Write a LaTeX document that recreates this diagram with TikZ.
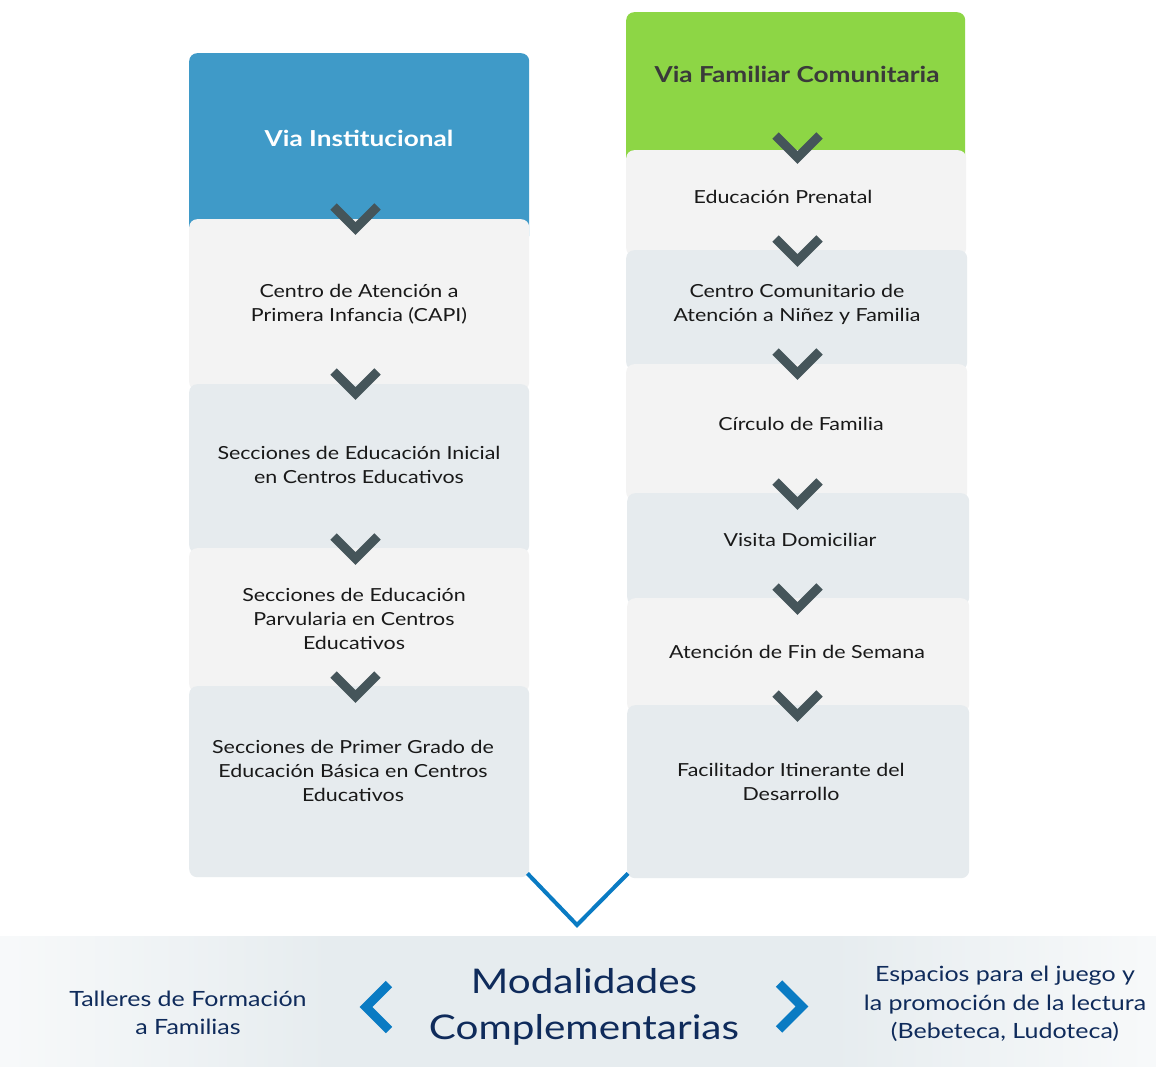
\documentclass[tikz,border=0pt]{standalone}
\usepackage{fontspec}
\setmainfont{Lato}[FakeStretch=1.19]
\usetikzlibrary{calc}
\definecolor{hblue}{HTML}{3F9AC8}
\definecolor{hgreen}{HTML}{8DD645}
\definecolor{cardA}{HTML}{F3F3F3}
\definecolor{cardB}{HTML}{E6EBEE}
\definecolor{chevc}{HTML}{45555A}
\definecolor{vblue}{HTML}{0A7BC3}
\definecolor{navy}{HTML}{0F2B5B}
\definecolor{bandg}{HTML}{E6ECEF}
\definecolor{darktxt}{HTML}{3A3A3A}
\tikzset{
  card/.style={rounded corners=8pt, inner sep=0pt, anchor=north west, draw=none},
  txt/.style={align=center, font=\fontsize{18}{24}\selectfont, text=black!90, inner sep=0pt},
  htxt/.style={align=center, font=\fontsize{22}{26}\selectfont\bfseries, inner sep=0pt},
  btxt/.style={align=center, font=\fontsize{21}{28.5}\selectfont, text=navy, inner sep=0pt},
  chevron/.style={draw=chevc, line width=9pt, miter limit=10, line join=miter},
  sidechev/.style={draw=vblue, line width=9pt, miter limit=10, line join=miter},
  vline/.style={draw=vblue, line width=4pt, line join=miter}
}
\newcommand\chevat[2]{\draw[chevron] ($(#1,#2)+(-22,-22)$) -- (#1,#2) -- ($(#1,#2)+(22,-22)$);}
\begin{document}
\begin{tikzpicture}[x=1pt,y=-1pt]
\useasboundingbox (0,0) rectangle (1156,1067);
\fill[white] (0,0) rectangle (1156,1067);
% bottom band
\fill[left color=white!70!bandg, right color=bandg] (0,936) rectangle (330,1067);
\fill[bandg] (329,936) rectangle (831,1067);
\fill[left color=bandg, right color=white!70!bandg] (830,936) rectangle (1156,1067);
% left column
\node[card, fill=hblue, minimum width=340pt, minimum height=190pt] (LH) at (189,53) {};
\node[card, fill=cardA, minimum width=340pt, minimum height=171pt] (L1) at (189,219) {};
\node[card, fill=cardB, minimum width=340pt, minimum height=169pt] (L2) at (189,384) {};
\node[card, fill=cardA, minimum width=340pt, minimum height=144pt] (L3) at (189,548) {};
\node[card, fill=cardB, minimum width=340pt, minimum height=191pt] (L4) at (189,686) {};
% right column
\node[card, fill=hgreen, minimum width=339pt, minimum height=160pt] (RH) at (626,12) {};
\node[card, fill=cardA, minimum width=340pt, minimum height=106pt] (R1) at (626,150) {};
\node[card, fill=cardB, minimum width=341pt, minimum height=120pt] (R2) at (626,250) {};
\node[card, fill=cardA, minimum width=341pt, minimum height=136pt] (R3) at (626,364) {};
\node[card, fill=cardB, minimum width=342pt, minimum height=112pt] (R4) at (627,493) {};
\node[card, fill=cardA, minimum width=342pt, minimum height=114pt] (R5) at (627,598) {};
\node[card, fill=cardB, minimum width=342pt, minimum height=173pt] (R6) at (627,705) {};
% chevrons
\chevat{355.5}{228.5}
\chevat{355.5}{393.5}
\chevat{355.5}{558.5}
\chevat{355.5}{696.5}
\chevat{797.5}{157.5}
\chevat{797.5}{260.5}
\chevat{797.5}{373.5}
\chevat{797.5}{503.5}
\chevat{797.5}{608.5}
\chevat{797.5}{715.5}
% V connector
\coordinate (V) at (577,925);
\draw[vline] ($(L4.south east)+(-2,-4)$) -- (V) -- ($(R6.south west)+(1,-5)$);
% texts
\node[htxt, text=white] (tLH) at (359,138) {Via Institucional};
\node[htxt, text=darktxt] (tRH) at (797,74) {Via Familiar Comunitaria};
\node[txt] (tL1) at (359,304) {Centro de Atención a\\Primera Infancia (CAPI)};
\node[txt] (tL2) at (359,465) {Secciones de Educación Inicial\\en Centros Educativos};
\node[txt] (tL3) at (354,619) {Secciones de Educación\\Parvularia en Centros\\Educativos};
\node[txt] (tL4) at (353,771) {Secciones de Primer Grado de\\Educación Básica en Centros\\Educativos};
\node[txt] (tR1) at (783,197) {Educación Prenatal};
\node[txt] (tR2) at (797,304) {Centro Comunitario de\\Atención a Niñez y Familia};
\node[txt] (tR3) at (801,424) {Círculo de Familia};
\node[txt] (tR4) at (800,540) {Visita Domiciliar};
\node[txt] (tR5) at (797,652) {Atención de Fin de Semana};
\node[txt] (tR6) at (791,782) {Facilitador Itinerante del\\Desarrollo};
% bottom
\node[align=center, font=\fontsize{34}{46}\selectfont, text=navy, inner sep=0pt] (MC) at (584,1007) {Modalidades\\Complementarias};
\node[btxt] (TF) at (188,1013) {Talleres de Formación\\a Familias};
\node[btxt] (EJ) at (1005,1004) {Espacios para el juego y\\la promoción de la lectura\\(Bebeteca, Ludoteca)};
\draw[sidechev] (389,984) -- (366,1007) -- (389,1030);
\draw[sidechev] (779,983.5) -- (802,1006.5) -- (779,1029.5);
\end{tikzpicture}
\end{document}
